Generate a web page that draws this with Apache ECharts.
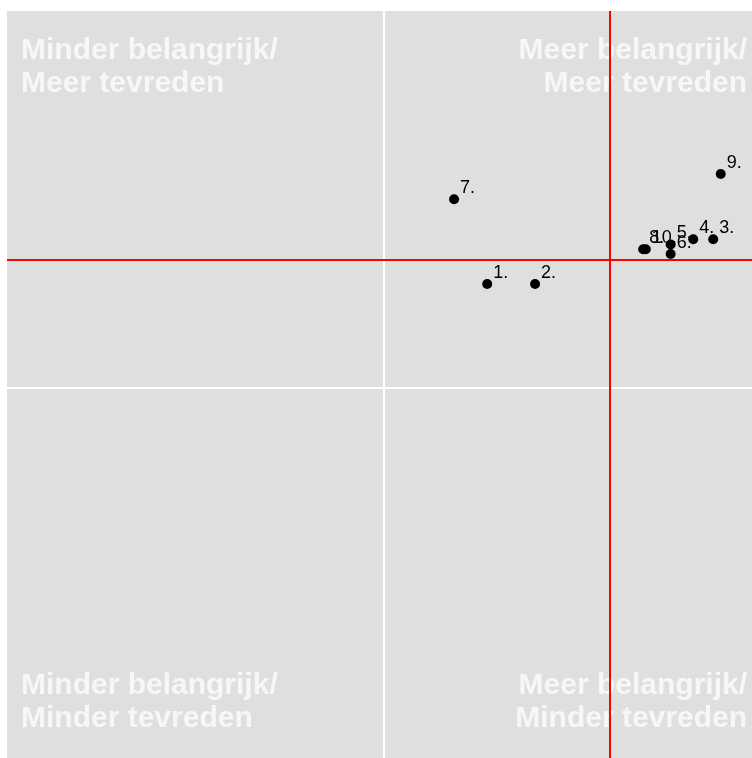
<!DOCTYPE html>
<html>
<head>
<meta charset="utf-8">
<script src="https://cdn.jsdelivr.net/npm/echarts@6/dist/echarts.min.js"></script>
<style>
html,body{margin:0;padding:0;background:#fff;}
#c{width:752px;height:758px;}
</style>
</head>
<body>
<div id="c"></div>
<script>
var labels = ['1.', '2.', '3.', '4.', '5.', '6.', '7.', '8.', '9.', '10.'];
var importance = [27.5, 40.2, 87.5, 82.2, 76.2, 76.2, 18.7, 68.9, 89.5, 69.6];
var satisfaction = [27.9, 27.9, 40.0, 40.0, 38.6, 36.0, 50.8, 37.3, 57.6, 37.3];
var meanImportance = 60;
var meanSatisfaction = 34.6;
var gridX = 0;
var gridY = 0;
var quadrantTexts = ['Minder belangrijk/\nMeer tevreden', 'Meer belangrijk/\nMeer tevreden',
                     'Minder belangrijk/\nMinder tevreden', 'Meer belangrijk/\nMinder tevreden'];

var font = "'Liberation Sans', Arial, Helvetica, sans-serif";
var chart = echarts.init(document.getElementById('c'));
var pts = labels.map(function (l, i) { return [importance[i], satisfaction[i], l]; });
function qStyle(text, align) {
  return { text: text, textAlign: align, fill: '#f7f7f7', fontFamily: font, fontWeight: 'bold', fontSize: 30, lineHeight: 33 };
}

chart.setOption({
  animation: false,
  grid: { left: 7, top: 11, right: 0, bottom: 0, show: true, backgroundColor: '#dfdfdf', borderWidth: 0 },
  xAxis: {
    type: 'value', min: -100, max: 97.8,
    axisLine: { show: false }, axisTick: { show: false }, axisLabel: { show: false },
    splitLine: { show: false }
  },
  yAxis: {
    type: 'value', min: -100, max: 101.6,
    axisLine: { show: false }, axisTick: { show: false }, axisLabel: { show: false },
    splitLine: { show: false }
  },
  graphic: [
    { type: 'text', left: 21, top: 34, style: qStyle(quadrantTexts[0], 'left') },
    { type: 'text', right: 5, top: 34, style: qStyle(quadrantTexts[1], 'right') },
    { type: 'text', left: 21, top: 669, style: qStyle(quadrantTexts[2], 'left') },
    { type: 'text', right: 5, top: 669, style: qStyle(quadrantTexts[3], 'right') }
  ],
  series: [{
    type: 'scatter',
    data: [],
    z: 1,
    markLine: {
      silent: true, symbol: 'none', animation: false,
      label: { show: false },
      lineStyle: { color: '#ffffff', width: 2, type: 'solid' },
      data: [{ xAxis: gridX }, { yAxis: gridY }]
    }
  }, {
    type: 'scatter',
    data: pts,
    z: 3,
    symbolSize: 10,
    itemStyle: { color: '#000000', opacity: 1 },
    label: {
      show: true, position: 'right', distance: 1, offset: [0, -11],
      formatter: function (p) { return p.data[2]; },
      color: '#000000', fontSize: 18, fontFamily: font
    },
    markLine: {
      silent: true, symbol: 'none', animation: false,
      label: { show: false },
      lineStyle: { color: '#ff0000', width: 2, type: 'solid' },
      data: [{ xAxis: meanImportance }, { yAxis: meanSatisfaction }]
    }
  }]
});
</script>
</body>
</html>
